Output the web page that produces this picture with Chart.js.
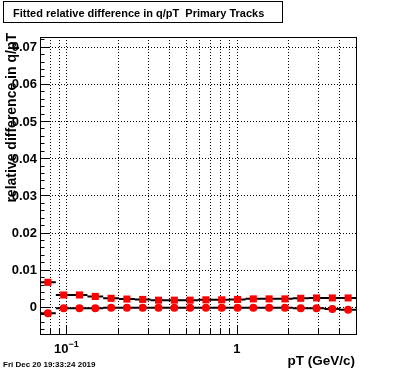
<!DOCTYPE html>
<html>
<head>
<meta charset="utf-8">
<script src="https://cdn.jsdelivr.net/npm/chart.js@4"></script>
<style>
  html, body { margin: 0; padding: 0; background: #fff; }
  #wrap { width: 396px; height: 372px; position: relative; }
</style>
</head>
<body>
<div id="wrap"><canvas id="qptChart" width="396" height="372"></canvas></div>
<script>
// bin centres (pT, GeV/c) and bin edges, 20 log bins from 0.07 to 5
const binCenters = [0.0779, 0.0964, 0.1193, 0.1477, 0.1829, 0.2264, 0.2803, 0.3470, 0.4296, 0.5318,
                    0.6583, 0.8150, 1.0088, 1.2489, 1.5461, 1.9141, 2.3696, 2.9335, 3.6316, 4.4958];
const binEdges = [0.07, 0.0867, 0.1073, 0.1328, 0.1644, 0.2035, 0.2520, 0.3120, 0.3862, 0.4781, 0.5919,
                  0.7328, 0.9072, 1.1231, 1.3904, 1.7213, 2.1310, 2.6381, 3.2660, 4.0433, 5.0];

// red squares
const squareVals = [0.0066, 0.0032, 0.0032, 0.0028, 0.0023, 0.0021, 0.0020, 0.0018, 0.0018, 0.0018,
                    0.0019, 0.0019, 0.0020, 0.00215, 0.00215, 0.00215, 0.0023, 0.0024, 0.0024, 0.0024];
// red circles
const circleVals = [-0.0017, -0.0004, -0.0004, -0.0004, -0.00027, -0.00027, -0.00027, -0.00027, -0.00027, -0.00027,
                    -0.00027, -0.00027, -0.00027, -0.00027, -0.00027, -0.00027, -0.0004, -0.0004, -0.0006, -0.0008];

const yTickVals = [0, 0.01, 0.02, 0.03, 0.04, 0.05, 0.06, 0.07];
const yTickLabels = ['0', '0.01', '0.02', '0.03', '0.04', '0.05', '0.06', '0.07'];
const xMajorTicks = [0.1, 1];
const xMinorTicks = [0.08, 0.09, 0.2, 0.3, 0.4, 0.5, 0.6, 0.7, 0.8, 0.9, 2, 3, 4];

const FONT = '"Liberation Sans", Arial, Helvetica, sans-serif';

function points(vals) {
  return binCenters.map((x, i) => ({ x: x, y: vals[i] }));
}

// horizontal black bars across each bin
function binBars(vals) {
  const out = [];
  vals.forEach((v, i) => {
    out.push({ x: binEdges[i], y: v });
    out.push({ x: binEdges[i + 1], y: v });
    out.push({ x: binEdges[i + 1], y: null });
  });
  return out;
}

const rootFrame = {
  id: 'rootFrame',
  beforeDatasetsDraw(chart) {
    const ctx = chart.ctx;
    const a = chart.chartArea;
    const xs = chart.scales.x, ys = chart.scales.y;
    ctx.save();
    ctx.strokeStyle = '#000';
    ctx.lineWidth = 1;
    ctx.setLineDash([1, 2]);
    xMajorTicks.concat(xMinorTicks).forEach(v => {
      const px = Math.round(xs.getPixelForValue(v)) + 0.5;
      ctx.beginPath(); ctx.moveTo(px, a.top); ctx.lineTo(px, a.bottom); ctx.stroke();
    });
    yTickVals.forEach(v => {
      const py = Math.round(ys.getPixelForValue(v)) + 0.5;
      ctx.beginPath(); ctx.moveTo(a.left, py); ctx.lineTo(a.right, py); ctx.stroke();
    });
    ctx.restore();
  },
  afterDraw(chart) {
    const ctx = chart.ctx;
    const a = chart.chartArea;
    const xs = chart.scales.x, ys = chart.scales.y;
    ctx.save();
    ctx.strokeStyle = '#000';
    ctx.fillStyle = '#000';
    ctx.lineWidth = 1;
    // frame
    ctx.strokeRect(Math.round(a.left) + 0.5, Math.round(a.top) + 0.5,
                   Math.round(a.right - a.left), Math.round(a.bottom - a.top));
    // y ticks (inward)
    for (let v = -0.006; v < 0.0725; v += 0.002) {
      const major = Math.abs(v / 0.01 - Math.round(v / 0.01)) < 1e-6;
      const py = Math.round(ys.getPixelForValue(v)) + 0.5;
      ctx.beginPath(); ctx.moveTo(a.left, py); ctx.lineTo(a.left + (major ? 9 : 4.5), py); ctx.stroke();
    }
    // x ticks (inward)
    xMajorTicks.forEach(v => {
      const px = Math.round(xs.getPixelForValue(v)) + 0.5;
      ctx.beginPath(); ctx.moveTo(px, a.bottom); ctx.lineTo(px, a.bottom - 9); ctx.stroke();
    });
    xMinorTicks.forEach(v => {
      const px = Math.round(xs.getPixelForValue(v)) + 0.5;
      ctx.beginPath(); ctx.moveTo(px, a.bottom); ctx.lineTo(px, a.bottom - 5); ctx.stroke();
    });
    // y labels
    ctx.font = 'bold 13px ' + FONT;
    ctx.textAlign = 'right';
    ctx.textBaseline = 'alphabetic';
    yTickVals.forEach((v, i) => {
      ctx.fillText(yTickLabels[i], a.left - 3, ys.getPixelForValue(v) + 4.6);
    });
    // x labels
    const p01 = xs.getPixelForValue(xMajorTicks[0]);
    ctx.textAlign = 'left';
    ctx.font = 'bold 13px ' + FONT;
    ctx.fillText('10', p01 - 12.5, 353);
    ctx.font = 'bold 9px ' + FONT;
    ctx.fillText('\u22121', p01 + 2, 347);
    ctx.font = 'bold 13px ' + FONT;
    ctx.textAlign = 'center';
    ctx.fillText('1', xs.getPixelForValue(xMajorTicks[1]), 353);
    // axis titles
    ctx.font = 'bold 13.5px ' + FONT;
    ctx.textAlign = 'right';
    ctx.fillText('pT (GeV/c)', 355, 365);
    ctx.save();
    ctx.translate(16, 33);
    ctx.rotate(-Math.PI / 2);
    ctx.font = 'bold 14px ' + FONT;
    ctx.textAlign = 'right';
    ctx.fillText('relative difference in q/pT', 0, 0);
    ctx.restore();
    // title box
    ctx.strokeRect(3.5, 1.5, 279, 21);
    ctx.font = 'bold 11px ' + FONT;
    ctx.textAlign = 'left';
    ctx.fillText('Fitted relative difference in q/pT  Primary Tracks', 13, 16.5);
    // date stamp
    ctx.font = 'bold 8px ' + FONT;
    ctx.fillText('Fri Dec 20 19:33:24 2019', 3, 367);
    ctx.restore();
  }
};

new Chart(document.getElementById('qptChart'), {
  type: 'scatter',
  data: {
    datasets: [
      {
        label: 'squares',
        data: points(squareVals),
        pointStyle: 'rect',
        pointRadius: 5,
        pointBackgroundColor: '#ff0000',
        pointBorderWidth: 0,
        order: 0
      },
      {
        label: 'circles',
        data: points(circleVals),
        pointStyle: 'circle',
        pointRadius: 4,
        pointBackgroundColor: '#ff0000',
        pointBorderWidth: 0,
        order: 1
      },
      {
        label: 'squares bins',
        data: binBars(squareVals),
        showLine: true,
        spanGaps: false,
        borderColor: '#000',
        borderWidth: 2,
        pointRadius: 0,
        order: 2
      },
      {
        label: 'circles bins',
        data: binBars(circleVals),
        showLine: true,
        spanGaps: false,
        borderColor: '#000',
        borderWidth: 2,
        pointRadius: 0,
        order: 3
      }
    ]
  },
  options: {
    responsive: false,
    animation: false,
    layout: { padding: { left: 40, top: 37, right: 40, bottom: 38 } },
    plugins: { legend: { display: false }, tooltip: { enabled: false }, title: { display: false } },
    scales: {
      x: { type: 'logarithmic', min: 0.07, max: 5, display: false },
      y: { type: 'linear', min: -0.0073, max: 0.0726, display: false }
    }
  },
  plugins: [rootFrame]
});
</script>
</body>
</html>
